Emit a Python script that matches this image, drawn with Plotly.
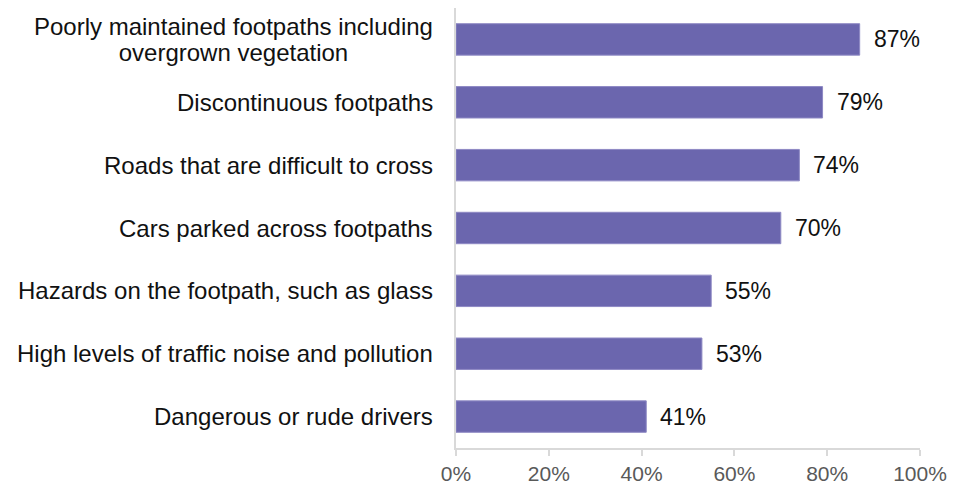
import plotly.graph_objects as go

categories = [
    "Poorly maintained footpaths including<br>overgrown vegetation",
    "Discontinuous footpaths",
    "Roads that are difficult to cross",
    "Cars parked across footpaths",
    "Hazards on the footpath, such as glass",
    "High levels of traffic noise and pollution",
    "Dangerous or rude drivers",
]
values = [87, 79, 74, 70, 55, 53, 41]
x_ticks = [0, 20, 40, 60, 80, 100]
x_tick_labels = ["0%", "20%", "40%", "60%", "80%", "100%"]

BAR_COLOR = "#6b66ae"
FONT = "Liberation Sans, Arial, sans-serif"
TEXT_COLOR = "#111111"

fig = go.Figure(
    go.Bar(
        y=categories,
        x=values,
        orientation="h",
        marker=dict(color=BAR_COLOR, line=dict(color="#8e89c4", width=1)),
        width=0.5,
        hoverinfo="skip",
    )
)

annotations = []
# category labels, right-aligned next to the axis, wrapped lines centred.
# The base font size sets a tighter line spacing; the span sets glyph size.
for cat in categories:
    styled = "<br>".join(
        f'<span style="font-size:24px">{line}</span>' for line in cat.split("<br>")
    )
    annotations.append(dict(
        x=0, xref="paper", y=cat, yref="y",
        text=styled, showarrow=False, xanchor="right", yanchor="middle",
        align="center", xshift=-21,
        font=dict(family=FONT, size=20, color=TEXT_COLOR),
    ))

# value labels at the end of each bar
for cat, v in zip(categories, values):
    annotations.append(dict(
        x=v, xref="x", y=cat, yref="y",
        text=f"{v}%", showarrow=False, xanchor="left", yanchor="middle",
        xshift=12,
        font=dict(family=FONT, size=23, color=TEXT_COLOR),
    ))

fig.update_layout(
    width=955, height=493,
    margin=dict(l=456, r=34, t=8, b=36),
    paper_bgcolor="white", plot_bgcolor="white",
    showlegend=False,
    annotations=annotations,
    xaxis=dict(
        range=[0, 100],
        tickvals=x_ticks, ticktext=x_tick_labels,
        showgrid=False, zeroline=False,
        showline=True, linecolor="#d9d9d9", linewidth=1.5,
        ticks="outside", ticklen=6, tickcolor="#d9d9d9", tickwidth=1.5,
        tickfont=dict(family=FONT, size=21, color="#595959"),
        fixedrange=True,
    ),
    yaxis=dict(
        autorange="reversed",
        showticklabels=False,
        showgrid=False, zeroline=False,
        showline=True, linecolor="#d9d9d9", linewidth=1.5,
        ticks="",
        fixedrange=True,
    ),
)

fig.write_html("out.html")
